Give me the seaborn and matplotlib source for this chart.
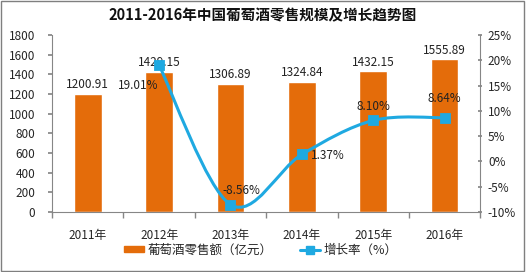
import numpy as np
import pandas as pd
import matplotlib
matplotlib.use("Agg")
import matplotlib.pyplot as plt
from matplotlib.path import Path
from matplotlib.patches import PathPatch, Rectangle
from matplotlib.lines import Line2D
import seaborn as sns

years = ["2011年", "2012年", "2013年", "2014年", "2015年", "2016年"]
sales = [1200.91, 1429.15, 1306.89, 1324.84, 1432.15, 1555.89]
growth_years = ["2012年", "2013年", "2014年", "2015年", "2016年"]
growth = [19.01, -8.56, 1.37, 8.10, 8.64]
title = "2011-2016年中国葡萄酒零售规模及增长趋势图"
bar_label = "葡萄酒零售额（亿元）"
line_label = "增长率（%）"

sns.set_theme(style="white")
plt.rcParams["font.family"] = ["Noto Sans CJK SC", "DejaVu Sans"]
plt.rcParams["axes.unicode_minus"] = False

BAR = "#E46C0A"
LINE = "#1FA9E1"
GRAY = "#868686"

fig = plt.figure(figsize=(5.26, 2.72), dpi=100)
ax = fig.add_axes([0.099, 0.221, 0.814, 0.650])

df = pd.DataFrame({"year": years, "sales": sales})
sns.barplot(data=df, x="year", y="sales", color=BAR, width=0.39, ax=ax,
            saturation=1, order=years)
ax.set_xlim(-0.5, 5.5)
ax.set_ylim(0, 1800)
ax.set_yticks(range(0, 1801, 200))
ax.set_xlabel("")
ax.set_ylabel("")
ax.tick_params(axis="y", labelsize=8.5, length=3, color=GRAY, pad=9, direction="out", left=True)
ax.tick_params(axis="x", labelsize=8.5, length=0, pad=12)
ax.set_xticks(np.arange(-0.5, 6, 1), minor=True)
ax.tick_params(axis="x", which="minor", length=4, color=GRAY, bottom=True)
for s in ["top", "right"]:
    ax.spines[s].set_visible(False)
for s in ["left", "bottom"]:
    ax.spines[s].set_color(GRAY)
    ax.spines[s].set_linewidth(0.8)

for i, v in enumerate(sales):
    ax.text(i, v + 25, f"{v:.2f}", ha="center", va="bottom", fontsize=8.5,
            color="#222222")

ax2 = ax.twinx()
ax2.set_ylim(-10, 25)
ax2.set_yticks(range(-10, 26, 5))
ax2.set_yticklabels([f"{t}%" for t in range(-10, 26, 5)])
ax2.tick_params(axis="y", labelsize=8.5, length=3, color=GRAY, pad=4, direction="inout", right=True)
for s in ["top", "left", "bottom"]:
    ax2.spines[s].set_visible(False)
ax2.spines["right"].set_color(GRAY)
ax2.spines["right"].set_linewidth(0.8)

gx = np.array([years.index(y) for y in growth_years], dtype=float)
gy = np.array(growth, dtype=float)

# smooth curve via Catmull-Rom -> cubic Bezier path
verts = [(gx[0], gy[0])]
codes = [Path.MOVETO]
n = len(gx)
for i in range(n - 1):
    p0 = np.array([gx[max(i - 1, 0)], gy[max(i - 1, 0)]])
    p1 = np.array([gx[i], gy[i]])
    p2 = np.array([gx[i + 1], gy[i + 1]])
    p3 = np.array([gx[min(i + 2, n - 1)], gy[min(i + 2, n - 1)]])
    c1 = p1 + (p2 - p0) / 6
    c2 = p2 - (p3 - p1) / 6
    verts += [tuple(c1), tuple(c2), tuple(p2)]
    codes += [Path.CURVE4] * 3
ax2.add_patch(PathPatch(Path(verts, codes), fill=False, edgecolor=LINE, lw=2.2, zorder=3))

gdf = pd.DataFrame({"x": gx, "g": gy})
sns.scatterplot(data=gdf, x="x", y="g", marker="s", s=55, color=LINE,
                edgecolor=LINE, ax=ax2, zorder=4, legend=False)
ax2.set_xlim(-0.5, 5.5)
ax2.set_xlabel("")
ax2.set_ylabel("")

offsets = [(-0.30, -4.0), (0.15, 2.8), (0.36, -0.3), (0.0, 2.8), (0.0, 3.8)]
for (x, y, (dx, dy)) in zip(gx, gy, offsets):
    ax2.text(x + dx, y + dy, f"{y:.2f}%", ha="center", va="center", fontsize=8.5,
             color="#222222", zorder=5)

fig.text(0.5, 0.945, title, ha="center", va="center", fontsize=10.5,
         fontweight="bold", color="#111111")

handles = [Rectangle((0, 0), 1, 1, color=BAR),
           Line2D([0], [0], color=LINE, lw=2.2, marker="s", markersize=6)]
fig.legend(handles, [bar_label, line_label], loc="center", bbox_to_anchor=(0.496, 0.081),
           ncol=2, frameon=False, fontsize=9, handlelength=1.6, columnspacing=2.2,
           handleheight=0.4, handletextpad=0.3)

fig.add_artist(Rectangle((0.002, 0.004), 0.995, 0.992, transform=fig.transFigure,
                         fill=False, edgecolor="#7F7F7F", lw=1))

fig.savefig("out.png", dpi=100)
